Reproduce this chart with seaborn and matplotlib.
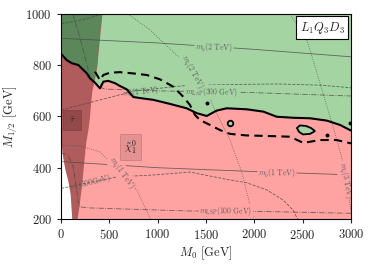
import matplotlib
matplotlib.use('Agg')
import matplotlib.pyplot as plt
import seaborn as sns

# observed exclusion contour (solid black)
excl_m0 = [0, 59, 111, 179, 214, 266, 300, 352, 403, 421, 438, 489, 559, 610, 680, 748, 817,
           955, 1128, 1300, 1404, 1507, 1611, 1714, 1921, 2093, 2231, 2403, 2576, 2749, 2886, 3000]
excl_m12 = [845, 820, 808, 801, 788, 769, 749, 732, 710, 723, 736, 739, 730, 719, 706, 676, 672,
            665, 649, 632, 613, 602, 623, 632, 628, 619, 599, 595, 593, 584, 567, 545]

# expected contour (dashed black)
exp_m0 = [352, 403, 438, 507, 610, 748, 887, 1024, 1162, 1265, 1334, 1386, 1438, 1541, 1645,
          1748, 1921, 2128, 2369, 2507, 2680, 2852, 3000]
exp_m12 = [775, 742, 762, 771, 773, 768, 762, 745, 716, 677, 645, 606, 586, 567, 547,
           532, 526, 524, 521, 497, 508, 508, 495]

# small allowed island and isolated points
island_m0 = [2441, 2472, 2535, 2586, 2628, 2576, 2503, 2462]
island_m12 = [555, 565, 563, 555, 543, 532, 530, 540]
ring_m0 = [1748]
ring_m12 = [576]
dot_m0 = [1507, 2749, 2985]
dot_m12 = [651, 528, 575]

# stau LSP region edges
stau_m12 = [200, 250, 300, 350, 400, 450, 500, 550, 600, 650, 700, 750, 800, 850, 900, 950, 1000]
stau_left = [112, 104, 95, 71, 38, 15, 0, 0, 0, 0, 0, 0, 0, 0, 0, 0, 0]
stau_right = [166, 186, 202, 218, 230, 243, 256, 279, 295, 306, 319, 349, 372, 384, 397, 410, 424]

# mass contours (grey)
gl2_m0, gl2_m12 = [0, 1000, 2000, 3000], [905, 887, 862, 833]
gl1_m0, gl1_m12 = [0, 1000, 2000, 3000], [424, 400, 385, 372]
lsp300_m0 = [124, 217, 300, 372, 455, 1000, 1500, 2000, 3000]
lsp300_m12 = [1000, 879, 754, 719, 707, 700, 697, 693, 680]
lsp100_m0 = [0, 72, 127, 162, 179, 197, 300, 1334, 2090, 3000]
lsp100_m12 = [458, 450, 403, 313, 266, 247, 243, 231, 229, 222]
st1_m0 = [0, 520, 765, 1340, 2240, 2700, 3000]
st1_m12 = [625, 676, 700, 723, 727, 722, 712]
st2_m0, st2_m12 = [0, 260, 420], [961, 981, 1000]
st500_m0 = [0, 580, 972, 1334, 1748, 1924, 2131, 2297, 2400, 2441, 2450]
st500_m12 = [319, 364, 372, 383, 352, 341, 313, 274, 235, 204, 200]
sq2_m0 = [693, 921, 1252, 1490, 1593, 1748, 1872, 1976, 1990]
sq2_m12 = [1000, 938, 820, 715, 625, 508, 380, 224, 200]
sq3_m0 = [2369, 2545, 2679, 2855, 2938, 2990, 3000]
sq3_m12 = [1000, 898, 731, 508, 391, 255, 230]
sq1_m0 = [0, 197, 403, 786, 920, 930]
sq1_m12 = [489, 485, 462, 313, 204, 200]

green = '#a5d4a3'
pink = '#ffa2a2'
dgreen = '#5b875b'
dred = '#b05c5c'
grey = '#4a4a4a'

sns.set_style('ticks')
plt.rcParams['font.family'] = 'cmr10'
plt.rcParams['mathtext.fontset'] = 'cm'
plt.rcParams['axes.formatter.use_mathtext'] = True

fig = plt.figure(figsize=(3.73, 2.67), dpi=100)
ax = fig.add_axes([0.1635, 0.18, 0.7775, 0.7675])
ax.set_facecolor(green)

# regions
ax.fill_between(excl_m0, 200, excl_m12, color=pink, lw=0, zorder=1)
ax.fill_betweenx(stau_m12, 0, stau_left, color='white', lw=0, zorder=2)
stau = ax.fill_betweenx(stau_m12, stau_left, stau_right, color=dred, lw=0, zorder=2)
top = ax.fill_between(excl_m0, excl_m12, 1000, color=dgreen, lw=0, zorder=3)
top.set_clip_path(stau.get_paths()[0], stau.get_transform())

# grey mass contours
kw = dict(color=grey, lw=0.6, alpha=0.8, sort=False, estimator=None, ax=ax, zorder=4)
sns.lineplot(x=gl2_m0, y=gl2_m12, linestyle='-', **kw)
sns.lineplot(x=gl1_m0, y=gl1_m12, linestyle='-', **kw)
sns.lineplot(x=lsp300_m0, y=lsp300_m12, linestyle='-.', **kw)
sns.lineplot(x=lsp100_m0, y=lsp100_m12, linestyle='-.', **kw)
sns.lineplot(x=st1_m0, y=st1_m12, linestyle='--', **kw)
sns.lineplot(x=st2_m0, y=st2_m12, linestyle='--', **kw)
sns.lineplot(x=st500_m0, y=st500_m12, linestyle='--', **kw)
sns.lineplot(x=sq2_m0, y=sq2_m12, linestyle=':', **kw)
sns.lineplot(x=sq3_m0, y=sq3_m12, linestyle=':', **kw)
sns.lineplot(x=sq1_m0, y=sq1_m12, linestyle=':', **kw)

lab = dict(fontsize=5.5, color='#606060', ha='center', va='center', rotation_mode='anchor',
           zorder=5, clip_on=True)
def bb(c):
    return dict(boxstyle='square,pad=0.1', fc=c, ec='none')
ax.text(1583, 871, r'$m_{\tilde{g}}(2\ \mathrm{TeV})$', rotation=-2, bbox=bb(green), **lab)
ax.text(2234, 381, r'$m_{\tilde{g}}(1\ \mathrm{TeV})$', rotation=-1, bbox=bb(pink), **lab)
ax.text(1562, 696, r'$m_{\rm LSP}(300\ \mathrm{GeV})$', rotation=-1, bbox=bb(green), **lab)
ax.text(1707, 231, r'$m_{\rm LSP}(100\ \mathrm{GeV})$', rotation=-1, bbox=bb(pink), **lab)
ax.text(830, 697, r'$m_{\tilde{t}}(1\ \mathrm{TeV})$', rotation=6, **lab)
ax.text(300, 343, r'$m_{\tilde{t}}(500\mathrm{GeV})$', rotation=14, **lab)
ax.text(1365, 774, r'$m_{\tilde{q}}(2\ \mathrm{TeV})$', rotation=-62, bbox=bb(green), **lab)
ax.text(631, 380, r'$m_{\tilde{q}}(1\ \mathrm{TeV})$', rotation=-55, bbox=bb(pink), **lab)
ax.text(2945, 352, r'$m_{\tilde{q}}(3\ \mathrm{TeV})$', rotation=-80, bbox=bb(pink), **lab)

# exclusion contours
sns.lineplot(x=excl_m0, y=excl_m12, color='black', lw=1.5, sort=False, estimator=None, ax=ax, zorder=6)
sns.lineplot(x=exp_m0, y=exp_m12, color='black', lw=1.5, linestyle=(0, (4, 2.5)),
             sort=False, estimator=None, ax=ax, zorder=6)
ax.fill(island_m0, island_m12, facecolor=green, edgecolor='black', lw=1.3, zorder=6)
sns.scatterplot(x=ring_m0, y=ring_m12, s=16, facecolor=green, edgecolor='black', linewidth=1.3, ax=ax, zorder=7)
sns.scatterplot(x=dot_m0, y=dot_m12, s=8, color='black', linewidth=0, ax=ax, zorder=7)

# region labels
ax.text(114, 586, r'$\tilde{\tau}$', fontsize=7, ha='center', va='center', zorder=8,
        bbox=dict(boxstyle='square,pad=0.55', fc='#7a3a3a', ec='#6a3030', lw=0.5, alpha=0.55))
ax.text(719, 481, r'$\tilde{\chi}_1^0$', fontsize=8, ha='center', va='center', zorder=8,
        bbox=dict(boxstyle='square,pad=0.35', fc='#d98a8a', ec='#b07070', lw=0.5, alpha=0.7))
ax.text(0.9, 0.934, r'$L_1Q_3D_3$', transform=ax.transAxes, fontsize=9, ha='center', va='center',
        zorder=9, bbox=dict(boxstyle='square,pad=0.25', fc='white', ec='black', lw=0.8))

ax.set_xlim(0, 3000)
ax.set_ylim(200, 1000)
ax.set_xticks([0, 500, 1000, 1500, 2000, 2500, 3000])
ax.set_yticks([200, 400, 600, 800, 1000])
ax.tick_params(labelsize=9, length=3, width=0.8, direction='out')
for s in ax.spines.values():
    s.set_linewidth(0.8)
    s.set_color('black')
    s.set_zorder(10)
ax.set_xlabel(r'$M_0$ [GeV]', fontsize=9, labelpad=2)
ax.set_ylabel(r'$M_{1/2}$ [GeV]', fontsize=9, labelpad=4)

fig.savefig('out.png', dpi=100)
